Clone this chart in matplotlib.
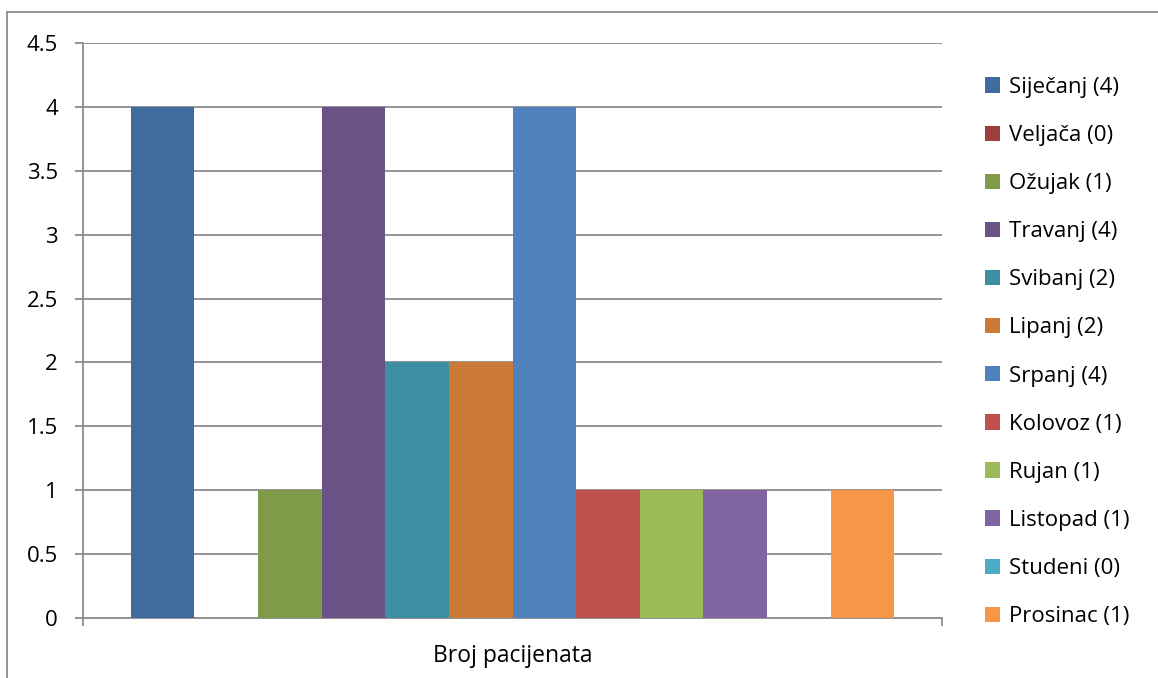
import matplotlib
matplotlib.use("Agg")
import matplotlib.pyplot as plt
from matplotlib.lines import Line2D
import numpy as np

plt.rcParams['font.family'] = ['Open Sans', 'DejaVu Sans']

months = ["Siječanj", "Veljača", "Ožujak", "Travanj", "Svibanj", "Lipanj",
          "Srpanj", "Kolovoz", "Rujan", "Listopad", "Studeni", "Prosinac"]
values = [4, 0, 1, 4, 2, 2, 4, 1, 1, 1, 0, 1]
colors = ["#3F6B9D", "#9D3F3D", "#7F9A48", "#6A5186", "#3C8FA3", "#CB7A37",
          "#4F81BD", "#C0504D", "#9BBB59", "#8064A2", "#4BACC6", "#F79646"]
category = "Broj pacijenata"
yticks = [0, 0.5, 1, 1.5, 2, 2.5, 3, 3.5, 4, 4.5]
ytick_labels = ["0", "0.5", "1", "1.5", "2", "2.5", "3", "3.5", "4", "4.5"]

FS = 16

W, H = 1158, 678
fig = plt.figure(figsize=(W / 100, H / 100), dpi=100)
ax = fig.add_axes([83 / W, 60 / H, (942 - 83) / W, 575 / H])

n = len(values)
pos = np.arange(n) - (n - 1) / 2
handles = []
for i in range(n):
    b = ax.bar(pos[i], values[i], width=1.0, color=colors[i],
               label=f"{months[i]} ({values[i]})", zorder=3)
    handles.append(b)

ax.set_xlim(-6.75, 6.75)
ax.set_ylim(0, 4.5)
ax.set_yticks(yticks)
ax.set_yticklabels(ytick_labels)
ax.yaxis.grid(True, color="#8C8C8C", linewidth=1.3, zorder=0)
ax.set_axisbelow(True)
for s in ["top", "right"]:
    ax.spines[s].set_visible(False)
for s in ["left", "bottom"]:
    ax.spines[s].set_color("#8C8C8C")
    ax.spines[s].set_linewidth(1.3)
ax.tick_params(axis="y", length=6, width=1.3, color="#8C8C8C", pad=12,
               labelsize=FS, labelcolor="black")
ax.set_xticks([-6.75, 6.75])
ax.set_xticklabels(["", ""])
ax.tick_params(axis="x", length=6, width=1.3, color="#8C8C8C", direction="out")
ax.text(0, -0.3, category, transform=ax.transData, ha="center", va="center",
        fontsize=16.5)

leg = fig.legend(handles=handles, loc="upper left",
                 bbox_to_anchor=(976 / W, 1 - 68 / H), frameon=False,
                 fontsize=FS, handlelength=0.68, handleheight=0.68,
                 handletextpad=0.4, labelspacing=1.22, borderaxespad=0)

# outer chart frame (extends beyond image at right and bottom)
fig.add_artist(Line2D([7 / W, 7 / W], [1 - 12 / H, -0.1], color="#8C8C8C",
                      linewidth=1.3, transform=fig.transFigure))
fig.add_artist(Line2D([7 / W, 1.1], [1 - 12 / H, 1 - 12 / H], color="#8C8C8C",
                      linewidth=1.3, transform=fig.transFigure))

fig.savefig("out.png", dpi=100)
